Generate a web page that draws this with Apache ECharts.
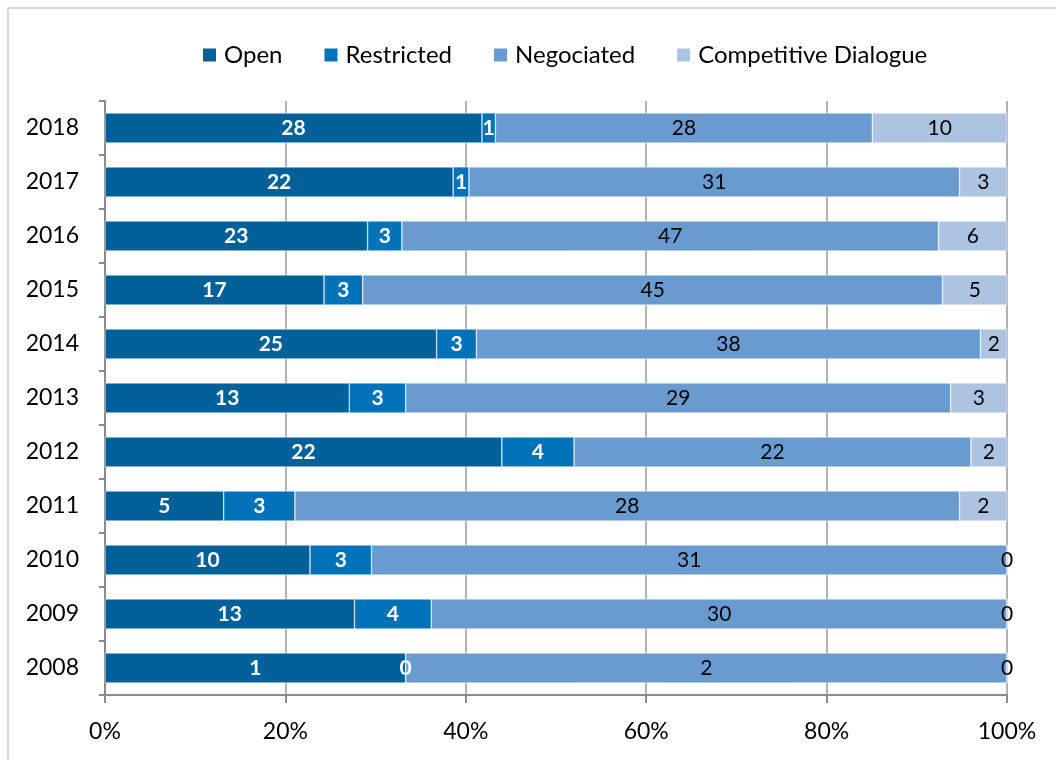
<!DOCTYPE html>
<html><head><meta charset="utf-8">
<script src="https://cdn.jsdelivr.net/npm/echarts@6/dist/echarts.min.js"></script>
<style>html,body{margin:0;padding:0;background:#fff}#c{width:1056px;height:760px}</style>
</head><body><div id="c"></div>
<script>
const years = ['2008','2009','2010','2011','2012','2013','2014','2015','2016','2017','2018'];
const openVals = [1,13,10,5,22,13,25,17,23,22,28];
const restrictedVals = [0,4,3,3,4,3,3,3,3,1,1];
const negociatedVals = [2,30,31,28,22,29,38,45,47,31,28];
const competitiveVals = [0,0,0,2,2,3,2,5,6,3,10];
const seriesNames = ['Open','Restricted','Negociated','Competitive Dialogue'];
const xTicks = ['0%','20%','40%','60%','80%','100%'];

const raw = [openVals, restrictedVals, negociatedVals, competitiveVals];
const totals = years.map((_, i) => raw.reduce((s, a) => s + a[i], 0));
const colors = ['#00609a','#0072b9','#6a9bd0','#adc3e2'];
const FONT = 'Lato';

const chart = echarts.init(document.getElementById('c'));
chart.setOption({
  animation: false,
  textStyle: { fontFamily: FONT },
  graphic: [{ type: 'rect', shape: { x: 8, y: 8, width: 1100, height: 800 }, style: { fill: 'none', stroke: '#d9d9d9', lineWidth: 2 }, silent: true }],
  legend: {
    top: 38, left: 196,
    itemWidth: 15, itemHeight: 15, itemGap: 40,
    icon: 'rect',
    textStyle: { fontSize: 24, color: '#000', fontFamily: FONT, padding: [0, 0, 0, 2] },
    data: seriesNames
  },
  grid: { left: 105, right: 49, top: 101, bottom: 65, containLabel: false },
  xAxis: {
    type: 'value', min: 0, max: 100, interval: 20,
    axisLine: { show: true, lineStyle: { color: '#8c8c8c', width: 2 } },
    axisTick: { show: true, length: 8, lineStyle: { color: '#8c8c8c', width: 2 } },
    splitLine: { show: true, lineStyle: { color: '#9a9a9a', width: 1.5 } },
    axisLabel: { fontSize: 23, color: '#000', margin: 25, fontFamily: FONT,
      formatter: v => xTicks[Math.round(v / 20)] }
  },
  yAxis: {
    type: 'category', data: years,
    axisLine: { show: true, lineStyle: { color: '#8c8c8c', width: 2 } },
    axisTick: { show: true, length: 6, lineStyle: { color: '#8c8c8c', width: 2 } },
    axisLabel: { fontSize: 23, color: '#000', margin: 26, fontFamily: FONT }
  },
  series: raw.map((arr, si) => ({
    name: seriesNames[si], type: 'bar', stack: 'all',
    barCategoryGap: '44%',
    itemStyle: { color: colors[si], borderColor: '#ffffff', borderWidth: 0.5 },
    data: arr.map((v, i) => v / totals[i] * 100),
    label: {
      show: true, position: 'inside',
      fontSize: 21, fontFamily: FONT,
      color: si < 2 ? '#ffffff' : '#000000',
      fontWeight: si < 2 ? 'bold' : 'normal',
      formatter: p => String(arr[p.dataIndex])
    },
    labelLayout: { hideOverlap: false }
  }))
});
</script></body></html>
